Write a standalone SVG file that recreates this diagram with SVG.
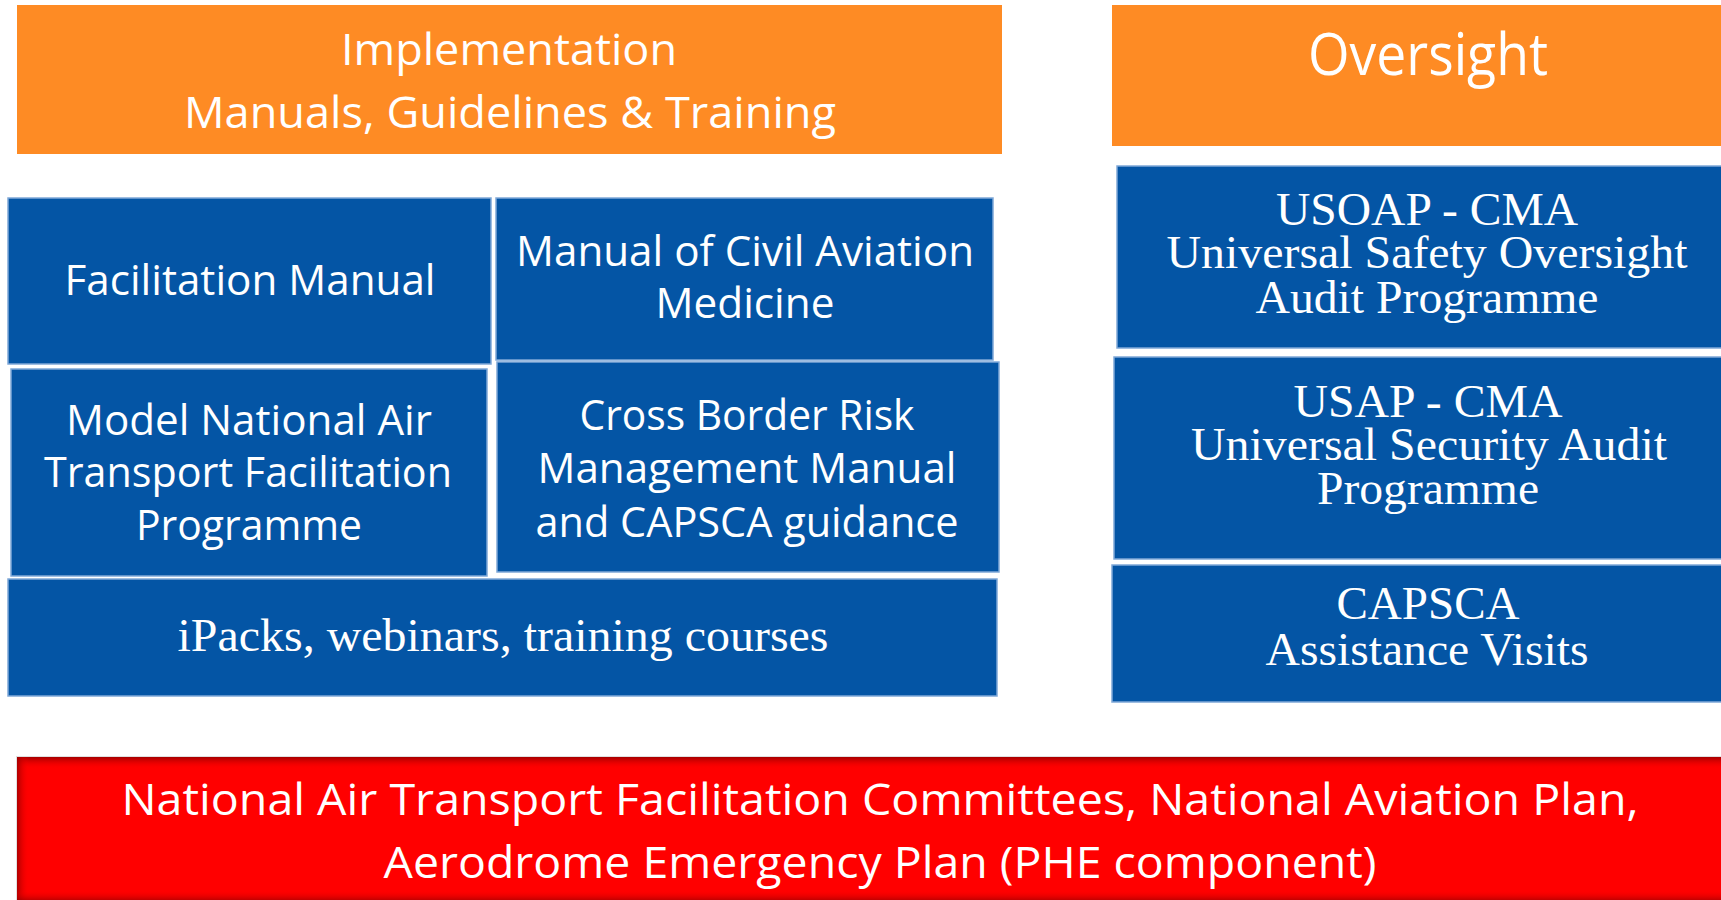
<svg xmlns="http://www.w3.org/2000/svg" width="1721" height="900" viewBox="0 0 1721 900">
<style>
.or{fill:#FE8B24}
.bl{fill:#0455A5;stroke:#7FA8D8;stroke-width:1.5}
.s{font-family:"Open Sans","Noto Sans","Liberation Sans",sans-serif;fill:#FFFFFF;text-anchor:middle}
.t{font-family:"Liberation Serif","Times New Roman",serif;fill:#FFFFFF;text-anchor:middle}
</style>
<defs>
<linearGradient id="gTop" x1="0" y1="0" x2="0" y2="1">
<stop offset="0" stop-color="#9A0000" stop-opacity="0.9"/>
<stop offset="1" stop-color="#FF0000" stop-opacity="0"/>
</linearGradient>
<linearGradient id="gLeft" x1="0" y1="0" x2="1" y2="0">
<stop offset="0" stop-color="#9A0000" stop-opacity="0.8"/>
<stop offset="1" stop-color="#FF0000" stop-opacity="0"/>
</linearGradient>
<linearGradient id="gBot" x1="0" y1="1" x2="0" y2="0">
<stop offset="0" stop-color="#9A0000" stop-opacity="0.6"/>
<stop offset="1" stop-color="#FF0000" stop-opacity="0"/>
</linearGradient>
</defs>
<rect width="1721" height="900" fill="#FFFFFF"/>

<g id="implementation">
<rect class="or" x="17" y="5" width="985" height="149"/>
<text class="s" x="509" y="65" font-size="44" textLength="336" lengthAdjust="spacingAndGlyphs">Implementation</text>
<text class="s" x="510" y="128" font-size="44" textLength="652" lengthAdjust="spacingAndGlyphs">Manuals, Guidelines &amp; Training</text>
</g>

<g id="oversight">
<rect class="or" x="1112" y="5" width="615" height="141"/>
<text class="s" x="1428" y="75" font-size="58" textLength="240" lengthAdjust="spacingAndGlyphs">Oversight</text>
</g>

<g id="facilitation-manual">
<rect class="bl" x="8" y="198" width="483" height="166"/>
<text class="s" x="250" y="295" font-size="42" textLength="371" lengthAdjust="spacingAndGlyphs">Facilitation Manual</text>
</g>

<g id="civil-aviation-medicine">
<rect class="bl" x="496" y="198" width="497" height="162"/>
<text class="s" x="745" y="266" font-size="42" textLength="458" lengthAdjust="spacingAndGlyphs">Manual of Civil Aviation</text>
<text class="s" x="745" y="318" font-size="42" textLength="179" lengthAdjust="spacingAndGlyphs">Medicine</text>
</g>

<g id="model-programme">
<rect class="bl" x="11" y="369" width="476" height="207"/>
<text class="s" x="249" y="435" font-size="42" textLength="366" lengthAdjust="spacingAndGlyphs">Model National Air</text>
<text class="s" x="248" y="487" font-size="42" textLength="408" lengthAdjust="spacingAndGlyphs">Transport Facilitation</text>
<text class="s" x="249" y="540" font-size="42" textLength="226" lengthAdjust="spacingAndGlyphs">Programme</text>
</g>

<g id="cross-border">
<rect class="bl" x="497" y="362" width="502" height="210"/>
<text class="s" x="747" y="430" font-size="42" textLength="335" lengthAdjust="spacingAndGlyphs">Cross Border Risk</text>
<text class="s" x="747" y="483" font-size="42" textLength="419" lengthAdjust="spacingAndGlyphs">Management Manual</text>
<text class="s" x="747" y="537" font-size="42" textLength="423" lengthAdjust="spacingAndGlyphs">and CAPSCA guidance</text>
</g>

<g id="ipacks">
<rect class="bl" x="8" y="579" width="989" height="117"/>
<text class="t" x="503" y="651" font-size="47" textLength="651" lengthAdjust="spacingAndGlyphs">iPacks, webinars, training courses</text>
</g>

<g id="usoap">
<rect class="bl" x="1117" y="166" width="610" height="182"/>
<text class="t" x="1427" y="225" font-size="47" textLength="302" lengthAdjust="spacingAndGlyphs">USOAP - CMA</text>
<text class="t" x="1427" y="268" font-size="47" textLength="521" lengthAdjust="spacingAndGlyphs">Universal Safety Oversight</text>
<text class="t" x="1427" y="313" font-size="47" textLength="343" lengthAdjust="spacingAndGlyphs">Audit Programme</text>
</g>

<g id="usap">
<rect class="bl" x="1114" y="357" width="613" height="202"/>
<text class="t" x="1428" y="417" font-size="47" textLength="269" lengthAdjust="spacingAndGlyphs">USAP - CMA</text>
<text class="t" x="1429" y="460" font-size="47" textLength="476" lengthAdjust="spacingAndGlyphs">Universal Security Audit</text>
<text class="t" x="1428" y="504" font-size="47" textLength="222" lengthAdjust="spacingAndGlyphs">Programme</text>
</g>

<g id="capsca-visits">
<rect class="bl" x="1112" y="565" width="615" height="137"/>
<text class="t" x="1428" y="619" font-size="47" textLength="183" lengthAdjust="spacingAndGlyphs">CAPSCA</text>
<text class="t" x="1427" y="665" font-size="47" textLength="323" lengthAdjust="spacingAndGlyphs">Assistance Visits</text>
</g>

<g id="national-plans">
<rect x="16" y="756" width="1710" height="150" fill="#E0E0E0"/>
<rect x="17" y="757" width="1710" height="150" fill="#FF0000"/>
<rect x="17" y="757" width="1710" height="12" fill="url(#gTop)"/>
<rect x="17" y="757" width="12" height="150" fill="url(#gLeft)"/>
<rect x="17" y="890" width="1710" height="10" fill="url(#gBot)"/>
<text class="s" x="880" y="815" font-size="44" textLength="1517" lengthAdjust="spacingAndGlyphs">National Air Transport Facilitation Committees, National Aviation Plan,</text>
<text class="s" x="880" y="878" font-size="44" textLength="993" lengthAdjust="spacingAndGlyphs">Aerodrome Emergency Plan (PHE component)</text>
</g>

<g id="connectors"/>
</svg>
